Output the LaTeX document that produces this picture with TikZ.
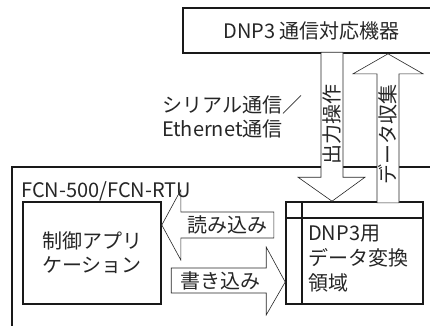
\documentclass[tikz,border=0pt]{standalone}
\usepackage{fontspec}
\setmainfont{Noto Sans CJK JP}
\usetikzlibrary{positioning}
\tikzset{
    box line/.style={draw=black!90, line width=1.6pt, inner sep=0pt},
    block arrow/.style={draw=black!85, fill=white, line width=0.6pt, line join=miter},
    label text/.style={inner sep=0pt, text=black!85, font=\fontsize{20}{24}\selectfont},
}

\begin{document}
\begin{tikzpicture}[x=1pt, y=-1pt]
    \useasboundingbox (0,0) rectangle (430,325);
    \node[box line, minimum width=433pt, minimum height=173pt] (fcn) at (228.5,253.5) {};
    \node[box line, label text, minimum width=257pt, minimum height=45pt] (dev) at (311.5,30.5) {DNP3 通信対応機器};
    \node[box line, label text, align=center, minimum width=138pt, minimum height=102pt] (app) at (92,253) {制御アプリ\\ケーション};
    \node[box line, minimum width=137pt, minimum height=102pt] (area) at (354.5,253) {};
    \draw[line width=1.6pt, black!90] ([xshift=17pt]area.north west) -- ([xshift=17pt]area.south west);
    \draw[line width=1.6pt, black!90] ([yshift=-17pt]area.north west) -- ([yshift=-17pt]area.north east);
    % block arrows
    \draw[block arrow] ([yshift=28pt]app.east) -- ++(19,-35) -- ++(0,22) -- ++(93,0) -- ++(0,26) -- ++(-93,0) -- ++(0,22) -- cycle;
    \draw[block arrow] ([yshift=-29pt]area.west) -- ++(-19,-35) -- ++(0,21) -- ++(-95,0) -- ++(0,25) -- ++(95,0) -- ++(0,22) -- cycle;
    \draw[block arrow] ([xshift=-22.5pt]area.north) -- ++(-34,-24) -- ++(23,0) -- ++(0,-125) -- ++(22,0) -- ++(0,125) -- ++(22,0) -- cycle;
    \draw[block arrow] ([xshift=76.5pt]dev.south) -- ++(35,20) -- ++(-24,0) -- ++(0,129) -- ++(-22,0) -- ++(0,-129) -- ++(-24,0) -- cycle;
    \node[label text] (read) at (227,225) {読み込み};
    \node[label text] (write) at (220,281) {書き込み};
    \node[label text, rotate=90] (output) at (332,124) {出力操作};
    \node[label text, rotate=90] (collect) at (388,134) {データ収集};
    \node[label text, anchor=west, align=left, font=\fontsize{20}{25}\selectfont] (areatext) at (308,259) {DNP3用\\データ変換\\領域};
    \node[label text, anchor=west] (fcnlabel) at (21,191) {FCN-500/FCN-RTU};
    \node[label text, anchor=west, align=left] (link) at (162,117) {シリアル通信／\\Ethernet通信};
\end{tikzpicture}
\end{document}
